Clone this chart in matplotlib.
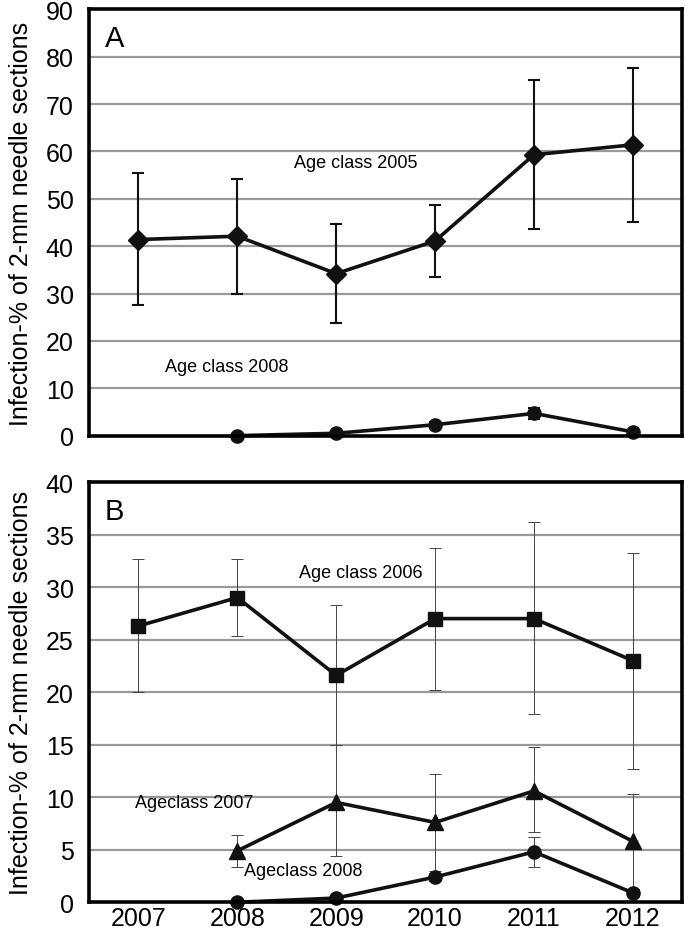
import numpy as np
import matplotlib.pyplot as plt

plt.rcParams['font.family'] = ['Liberation Sans', 'DejaVu Sans']

# data
years = [2007, 2008, 2009, 2010, 2011, 2012]
years08 = [2008, 2009, 2010, 2011, 2012]

# panel A
a05 = [41.4, 42.1, 34.2, 41.1, 59.3, 61.4]
a05_lo = [27.5, 29.8, 23.7, 33.5, 43.7, 45.2]
a05_hi = [55.4, 54.2, 44.6, 48.7, 75.0, 77.6]
a08 = [0.0, 0.5, 2.3, 4.7, 0.8]
a08_lo = [0.0, 0.2, 1.8, 3.6, 0.4]
a08_hi = [0.0, 0.8, 2.8, 5.9, 1.2]

# panel B
b06 = [26.3, 29.0, 21.6, 27.0, 27.0, 23.0]
b06_lo = [20.0, 25.3, 15.0, 20.2, 17.9, 12.7]
b06_hi = [32.7, 32.7, 28.3, 33.7, 36.2, 33.2]
b07 = [4.9, 9.5, 7.6, 10.6, 5.8]
b07_lo = [3.4, 4.4, 3.0, 6.7, 1.3]
b07_hi = [6.4, 15.0, 12.2, 14.8, 10.3]
b08 = [0.0, 0.4, 2.4, 4.8, 0.9]
b08_lo = [0.0, 0.2, 2.0, 3.4, 0.5]
b08_hi = [0.0, 0.6, 2.8, 6.2, 1.3]

ylab = "Infection-% of 2-mm needle sections"

def err(v, lo, hi):
    v = np.array(v); return [v - np.array(lo), np.array(hi) - v]

fig = plt.figure(figsize=(6.85, 9.37), dpi=100)
axA = fig.add_axes([0.130, 0.534, 0.866, 0.455])
axB = fig.add_axes([0.130, 0.036, 0.866, 0.4485])

def style(ax, ymax, step):
    ax.set_xlim(2006.5, 2012.5)
    ax.set_ylim(0, ymax)
    ax.set_yticks(np.arange(0, ymax + 1, step))
    ax.yaxis.grid(True, color='#999999', lw=1.6)
    ax.set_axisbelow(True)
    for s in ax.spines.values():
        s.set_linewidth(2.6)
    ax.tick_params(axis='y', length=0, labelsize=18, pad=11)
    ax.tick_params(axis='x', length=0, labelsize=18, pad=3)
    ax.set_ylabel(ylab, fontsize=18, labelpad=9)

# A
style(axA, 90, 10)
axA.set_xticks(years)
axA.set_xticklabels([])
axA.errorbar(years, a05, yerr=err(a05, a05_lo, a05_hi), color='#111111', lw=2.6,
             marker='D', ms=10.5, elinewidth=1.5, capsize=4, capthick=1.5)
axA.errorbar(years08, a08, yerr=err(a08, a08_lo, a08_hi), color='#111111', lw=2.6,
             marker='o', ms=9.5, elinewidth=1.5, capsize=4, capthick=1.5, clip_on=False)
axA.text(2009.2, 57.6, "Age class 2005", fontsize=13, ha='center', va='center')
axA.text(2007.89, 14.5, "Age class 2008", fontsize=13, ha='center', va='center')
axA.text(0.027, 0.965, "A", transform=axA.transAxes, fontsize=21, va='top')

# B
style(axB, 40, 5)
axB.set_xticks(years)
axB.errorbar(years, b06, yerr=err(b06, b06_lo, b06_hi), color='#111111', lw=2.6,
             marker='s', ms=9.5, elinewidth=0.7, ecolor='#444444', capsize=4, capthick=0.7)
axB.errorbar(years08, b07, yerr=err(b07, b07_lo, b07_hi), color='#111111', lw=2.6,
             marker='^', ms=11, elinewidth=0.7, ecolor='#444444', capsize=4, capthick=0.7)
axB.errorbar(years08, b08, yerr=err(b08, b08_lo, b08_hi), color='#111111', lw=2.6,
             marker='o', ms=9.5, elinewidth=0.7, ecolor='#444444', capsize=4, capthick=0.7,
             clip_on=False)
axB.text(2009.25, 31.4, "Age class 2006", fontsize=13, ha='center', va='center')
axB.text(2007.56, 9.5, "Ageclass 2007", fontsize=13, ha='center', va='center')
axB.text(2008.67, 3.0, "Ageclass 2008", fontsize=13, ha='center', va='center')
axB.text(0.027, 0.965, "B", transform=axB.transAxes, fontsize=21, va='top')

fig.savefig("out.png", dpi=100)
